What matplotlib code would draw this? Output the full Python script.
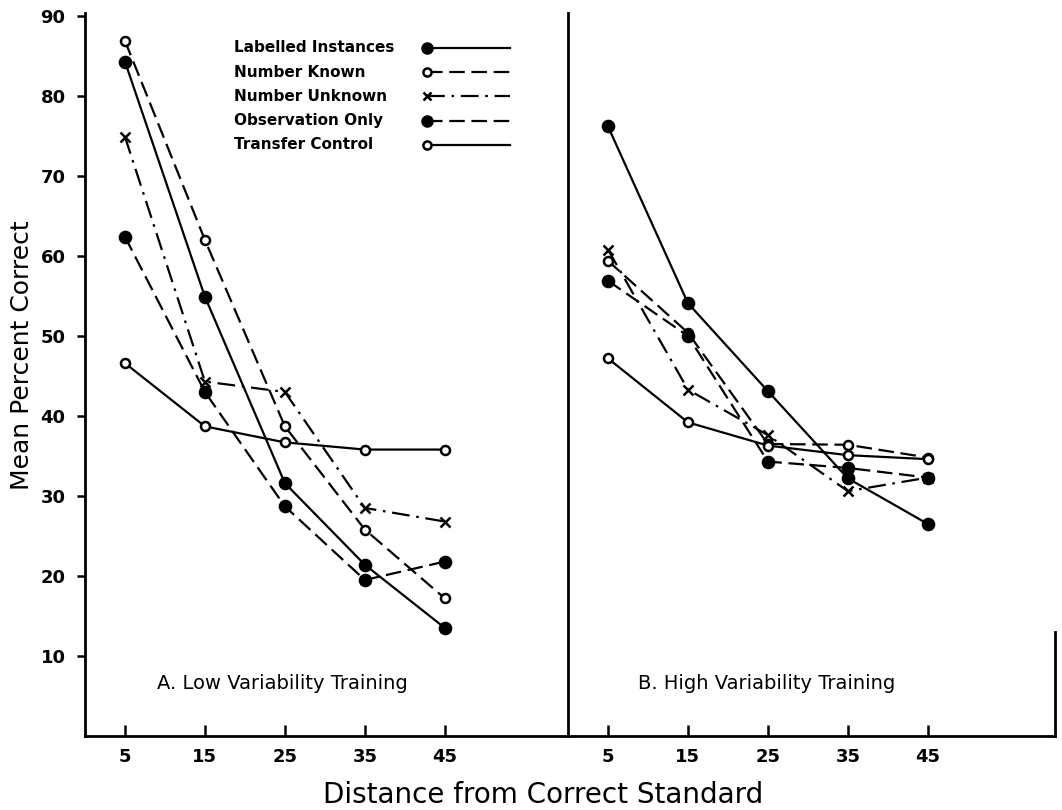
import matplotlib
matplotlib.use("Agg")
import matplotlib.pyplot as plt

# distance from the correct standard (x axis)
distances = [5, 15, 25, 35, 45]
x_ticklabels = ["5", "15", "25", "35", "45"]
y_ticks = [10, 20, 30, 40, 50, 60, 70, 80, 90]

group_names = ["Labelled Instances", "Number Known", "Number Unknown",
               "Observation Only", "Transfer Control"]

# A. low variability training (mean percent correct)
labelled_low = [84.3, 54.9, 31.6, 21.4, 13.5]
known_low = [86.9, 62.0, 38.7, 25.8, 17.2]
unknown_low = [74.9, 44.3, 43.0, 28.5, 26.8]
observation_low = [62.4, 43.0, 28.7, 19.5, 21.8]
transfer_low = [46.6, 38.7, 36.7, 35.8, 35.8]

# B. high variability training
labelled_high = [76.2, 54.1, 43.1, 32.2, 26.5]
known_high = [59.4, 50.4, 36.5, 36.4, 34.8]
unknown_high = [60.8, 43.3, 37.6, 30.6, 32.3]
observation_high = [56.9, 50.0, 34.3, 33.5, 32.3]
transfer_high = [47.2, 39.2, 36.3, 35.1, 34.6]

low_series = [labelled_low, known_low, unknown_low, observation_low, transfer_low]
high_series = [labelled_high, known_high, unknown_high, observation_high, transfer_high]

# marker / line style per group
styles = [
    dict(marker="o", mfc="black", ms=8, ls="-"),
    dict(marker="o", mfc="white", ms=6.5, ls=(0, (7, 3))),
    dict(marker="x", mfc="black", ms=7, ls=(0, (8, 3, 1.2, 3))),
    dict(marker="o", mfc="black", ms=8, ls=(0, (7, 3))),
    dict(marker="o", mfc="white", ms=6.5, ls="-"),
]

plt.rcParams['font.family'] = ['DejaVu Sans']
fig = plt.figure(figsize=(10.62, 8.10), dpi=100)
gs = fig.add_gridspec(1, 2, left=0.080, right=0.9934, bottom=0.0914, top=0.984,
                      wspace=0, width_ratios=[60.4, 60.9])
ax_low = fig.add_subplot(gs[0])
ax_high = fig.add_subplot(gs[1], sharey=ax_low)

for ax, series in [(ax_low, low_series), (ax_high, high_series)]:
    for name, vals, st in zip(group_names, series, styles):
        ax.plot(distances, vals, color="black", lw=1.6, ls=st["ls"],
                marker=st["marker"], ms=st["ms"], mfc=st["mfc"], mec="black",
                mew=1.8, label=name)
    ax.spines["top"].set_visible(False)
    for s in ax.spines.values():
        s.set_linewidth(2)
    ax.set_xticks(distances)
    ax.set_xticklabels(x_ticklabels, fontsize=13, fontweight="bold")
    ax.tick_params(axis="x", direction="in", length=8, width=1.8, pad=9)

ax_low.set_xlim(0, 60.4)
ax_high.set_xlim(0, 60.9)
ax_low.set_ylim(0, 90.375)
ax_low.spines["right"].set_visible(False)
ax_high.spines["right"].set_bounds(0, 13)
ax_low.set_yticks(y_ticks)
ax_low.set_yticklabels([str(v) for v in y_ticks], fontsize=13, fontweight="bold")
ax_low.tick_params(axis="y", direction="out", length=6, width=1.8, pad=8)
ax_high.tick_params(axis="y", left=False, labelleft=False)

ax_low.text(9.0, 6.6, "A. Low Variability Training", fontsize=14, va="center")
ax_high.text(8.8, 6.6, "B. High Variability Training", fontsize=14, va="center")

# key in the upper part of panel A: name, then marker with a line to its right
key_text_x, key_mark_x, key_end_x = 0.3085, 0.708, 0.880
key_top, key_step = 0.9516, 0.0335
for i, (name, st) in enumerate(zip(group_names, styles)):
    y = key_top - i * key_step
    ax_low.text(key_text_x, y, name, transform=ax_low.transAxes,
                fontsize=11, fontweight="bold", va="center")
    ax_low.plot([key_mark_x, key_end_x], [y, y], transform=ax_low.transAxes,
                color="black", lw=1.6, ls=st["ls"], marker=st["marker"],
                ms=st["ms"] * 0.9, mfc=st["mfc"], mec="black", mew=1.8,
                markevery=[0], clip_on=False)

fig.text(22 / 1062, 1 - 355 / 810, "Mean Percent Correct", rotation=90,
         fontsize=18, ha="center", va="center")
fig.text(543 / 1062, 1 - 795 / 810, "Distance from Correct Standard",
         fontsize=20, ha="center", va="center")

fig.savefig("out.png", dpi=100)
